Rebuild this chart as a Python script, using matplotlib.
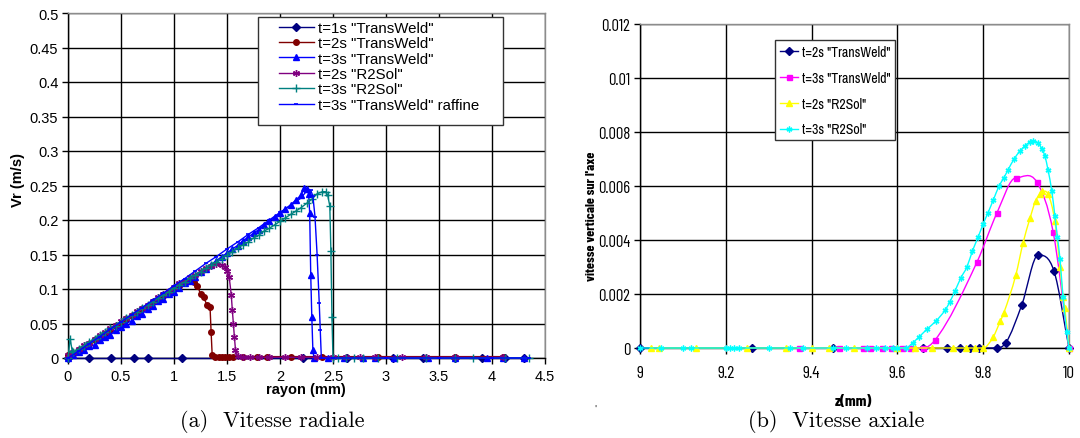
import numpy as np
import matplotlib
matplotlib.use("Agg")
import matplotlib.pyplot as plt
from matplotlib.path import Path
from matplotlib.patches import PathPatch, Rectangle
from matplotlib.lines import Line2D
from matplotlib import font_manager

# ---------------- data: left panel (Vitesse radiale) ----------------
left_xticks = [0, 0.5, 1, 1.5, 2, 2.5, 3, 3.5, 4, 4.5]
left_xticklabels = ["0", "0.5", "1", "1.5", "2", "2.5", "3", "3.5", "4", "4.5"]
left_yticks = [0, 0.05, 0.1, 0.15, 0.2, 0.25, 0.3, 0.35, 0.4, 0.45, 0.5]
left_yticklabels = ["0", "0.05", "0.1", "0.15", "0.2", "0.25", "0.3", "0.35", "0.4", "0.45", "0.5"]

left_labels = ['t=1s "TransWeld"', 't=2s "TransWeld"', 't=3s "TransWeld"',
               't=2s "R2Sol"', 't=3s "R2Sol"', 't=3s "TransWeld" raffine']

t1_tw_x = [0.0, 0.2, 0.41, 0.62, 0.75, 1.08, 2.22, 2.63, 3.07, 3.35, 3.65, 3.91, 4.12, 4.3]
t1_tw_y = [0, 0, 0, 0, 0, 0, 0, 0, 0, 0, 0, 0, 0, 0]

t2_tw_x = [0.0, 0.05, 0.1, 0.15, 0.2, 0.25, 0.3, 0.35, 0.4, 0.45, 0.5, 0.55, 0.6, 0.65,
           0.7, 0.75, 0.8, 0.85, 0.9, 0.95, 1.0, 1.05, 1.1,
           1.15, 1.19, 1.22, 1.25, 1.28, 1.31, 1.34, 1.35, 1.36, 1.39, 1.42, 1.45, 1.48,
           1.52, 1.56, 1.65, 1.78, 1.88, 2.1, 2.4, 2.92, 3.65, 4.1]
t2_tw_y = [0.004, 0.006, 0.011, 0.016, 0.020, 0.026, 0.031, 0.035, 0.041, 0.046, 0.050,
           0.056, 0.061, 0.065, 0.071, 0.075, 0.081, 0.086, 0.090, 0.096, 0.100, 0.105, 0.110,
           0.112, 0.110, 0.105, 0.093, 0.088, 0.077, 0.074, 0.038, 0.005, 0.002, 0.002, 0.002,
           0.002, 0.002, 0.002, 0.002, 0.002, 0.002, 0.002, 0.002, 0.002, 0.002, 0.002]

t3_tw_x = [0.0, 0.05, 0.1, 0.15, 0.2, 0.25, 0.3, 0.35, 0.4, 0.45, 0.5, 0.55, 0.6, 0.65,
           0.7, 0.75, 0.8, 0.85, 0.9, 0.95, 1.0, 1.05, 1.1, 1.15, 1.2, 1.25, 1.3, 1.35,
           1.4, 1.45, 1.5, 1.55, 1.6, 1.65, 1.7, 1.75, 1.8, 1.85, 1.9, 1.95, 2.0, 2.05,
           2.1, 2.15, 2.2,
           2.23, 2.25, 2.27, 2.28, 2.29, 2.30, 2.31, 2.32, 2.45, 2.6, 2.78, 2.9, 3.08,
           3.4, 3.65, 3.95, 4.1, 4.3]
t3_tw_y = [0.000, 0.004, 0.008, 0.012, 0.017, 0.019, 0.026, 0.030, 0.033, 0.041, 0.045,
           0.050, 0.054, 0.061, 0.064, 0.071, 0.075, 0.082, 0.085, 0.093, 0.096, 0.102,
           0.108, 0.112, 0.118, 0.124, 0.129, 0.135, 0.141, 0.147, 0.152, 0.158, 0.163,
           0.170, 0.175, 0.181, 0.186, 0.193, 0.198, 0.204, 0.210, 0.216, 0.222, 0.229,
           0.236,
           0.247, 0.245, 0.238, 0.21, 0.12, 0.06, 0.012, 0.0, 0, 0, 0, 0, 0,
           0, 0, 0, 0, 0]

t2_r2_x = [0.0, 0.05, 0.1, 0.15, 0.2, 0.25, 0.3, 0.35, 0.4, 0.45, 0.5, 0.55, 0.6, 0.65,
           0.7, 0.75, 0.8, 0.85, 0.9, 0.95, 1.0, 1.05, 1.1, 1.15, 1.2, 1.25, 1.3, 1.35,
           1.4, 1.45,
           1.48, 1.5, 1.52, 1.54, 1.55, 1.56, 1.57, 1.58, 1.6, 1.65, 1.72, 1.8, 1.9, 2.05,
           2.2, 2.35, 2.5, 2.62, 2.75, 2.9, 3.15, 3.38, 3.65, 4.1]
t2_r2_y = [0.004, 0.008, 0.013, 0.019, 0.022, 0.028, 0.033, 0.038, 0.044, 0.048, 0.053,
           0.058, 0.062, 0.068, 0.073, 0.077, 0.083, 0.088, 0.093, 0.097, 0.103, 0.108,
           0.112, 0.117, 0.121, 0.126, 0.130, 0.133, 0.136, 0.135,
           0.132, 0.126, 0.118, 0.092, 0.070, 0.050, 0.030, 0.012, 0.003, 0.001, 0.001,
           0.001, 0.001, 0.001, 0.001, 0.001, 0.001, 0.001, 0.001, 0.001, 0.001, 0.001,
           0.001, 0.001]

t3_r2_x = [0.0, 0.02, 0.04, 0.05, 0.1, 0.15, 0.2, 0.25, 0.3, 0.35, 0.4, 0.45, 0.5, 0.55,
           0.6, 0.65, 0.7, 0.75, 0.8, 0.85, 0.9, 0.95, 1.0, 1.05, 1.1, 1.15, 1.2, 1.25,
           1.3, 1.35, 1.4, 1.45, 1.5, 1.55, 1.6, 1.65, 1.7, 1.75, 1.8, 1.85, 1.9, 1.95,
           2.0, 2.05, 2.1, 2.15, 2.2,
           2.25, 2.3, 2.35, 2.4, 2.43, 2.45, 2.47, 2.48, 2.49, 2.5,
           2.55, 2.62, 2.7, 2.78, 2.92, 3.1, 3.38, 3.65, 3.82, 4.12, 4.35]
t3_r2_y = [0.0, 0.028, 0.010, 0.009, 0.013, 0.018, 0.023, 0.028, 0.033, 0.037, 0.043,
           0.047, 0.052, 0.058, 0.062, 0.067, 0.072, 0.077, 0.081, 0.087, 0.091, 0.096,
           0.101, 0.106, 0.110, 0.116, 0.120, 0.125, 0.130, 0.135, 0.139, 0.144, 0.149,
           0.154, 0.159, 0.164, 0.168, 0.174, 0.178, 0.184, 0.188, 0.193, 0.198, 0.203,
           0.208, 0.213, 0.218,
           0.224, 0.230, 0.238, 0.241, 0.241, 0.236, 0.220, 0.155, 0.060, 0.0,
           0, 0, 0, 0, 0, 0, 0, 0, 0, 0, 0]

t3_raf_x = [0.0, 0.1, 0.2, 0.3, 0.4, 0.5, 0.6, 0.7, 0.8, 0.9, 1.0, 1.1, 1.2, 1.3, 1.4,
            1.5, 1.6, 1.7, 1.8, 1.9, 2.0, 2.1, 2.2,
            2.25, 2.29, 2.31, 2.33, 2.35, 2.37, 2.38, 2.39, 2.5, 3.0, 3.5, 4.0, 4.35]
t3_raf_y = [0.0, 0.010, 0.021, 0.031, 0.042, 0.052, 0.063, 0.073, 0.084, 0.094, 0.105,
            0.115, 0.126, 0.137, 0.147, 0.158, 0.168, 0.179, 0.189, 0.200, 0.211, 0.221,
            0.232,
            0.242, 0.243, 0.235, 0.205, 0.150, 0.080, 0.040, 0.0, 0, 0, 0, 0, 0]

# ---------------- data: right panel (Vitesse axiale) ----------------
right_xticks = [9, 9.2, 9.4, 9.6, 9.8, 10]
right_xticklabels = ["9", "9.2", "9.4", "9.6", "9.8", "10"]
right_yticks = [0, 0.002, 0.004, 0.006, 0.008, 0.01, 0.012]
right_yticklabels = ["0", "0.002", "0.004", "0.006", "0.008", "0.01", "0.012"]

right_labels = ['t=2s "TransWeld"', 't=3s "TransWeld"', 't=2s "R2Sol"', 't=3s "R2Sol"']

z_t2_tw = [9.0, 9.26, 9.45, 9.66, 9.715, 9.745, 9.77, 9.79, 9.832, 9.853, 9.89,
           9.928, 9.965, 10.0]
v_t2_tw = [0, 0, 0, 0, 0, 0, 0, 0, 0.0, 0.0002, 0.0016, 0.00344, 0.00285, 0.0]

z_t3_tw = [9.37, 9.465, 9.52, 9.535, 9.565, 9.585, 9.61, 9.63, 9.66, 9.688, 9.786,
           9.832, 9.876, 9.925, 9.963, 10.0]
v_t3_tw = [0, 0, 0, 0, 0, 0, 0, 0, 0, 0.0003, 0.0032, 0.0050, 0.0063, 0.00615,
           0.0043, 0.0]

z_t2_r2 = [9.025, 9.045, 9.13, 9.25, 9.34, 9.40, 9.44, 9.50, 9.60, 9.64, 9.68, 9.73,
           9.76, 9.78, 9.80, 9.823, 9.84, 9.848, 9.876, 9.893, 9.909, 9.922, 9.932,
           9.937, 9.951, 9.967, 9.979, 9.986, 9.99, 10.0]
v_t2_r2 = [0, 0, 0, 0, 0, 0, 0, 0, 0, 0, 0, 0, 0, 0, 0,
           0.0004, 0.0010, 0.0013, 0.0027, 0.0039, 0.0048, 0.00545, 0.0057, 0.0058,
           0.0057, 0.0047, 0.0030, 0.0019, 0.0015, 0.0]

z_t3_r2 = [9.0, 9.05, 9.1, 9.12, 9.2, 9.21, 9.22, 9.23, 9.3, 9.35, 9.38, 9.45, 9.48,
           9.53, 9.55, 9.57, 9.59, 9.6, 9.62,
           9.636, 9.65, 9.669, 9.69, 9.711, 9.722, 9.734, 9.748, 9.762, 9.775, 9.788,
           9.80, 9.811, 9.824, 9.837, 9.848, 9.858, 9.872, 9.886, 9.898, 9.909, 9.916,
           9.927, 9.937, 9.944, 9.951, 9.96, 9.967, 9.973, 9.979, 9.986, 9.995, 10.0]
v_t3_r2 = [0, 0, 0, 0, 0, 0, 0, 0, 0, 0, 0, 0, 0, 0, 0, 0, 0, 0, 0,
           0.0002, 0.0004, 0.0007, 0.0010, 0.0014, 0.0017, 0.0021, 0.0026, 0.0030,
           0.0036, 0.0041, 0.0046, 0.0050, 0.0055, 0.0060, 0.0063, 0.0066, 0.0070,
           0.0073, 0.0075, 0.00763, 0.00767, 0.0076, 0.00737, 0.0071, 0.0066, 0.0058,
           0.0049, 0.0041, 0.0033, 0.0019, 0.0006, 0.0]


# ---------------- helpers ----------------
def pick_font(names, default):
    for n in names:
        try:
            font_manager.findfont(n, fallback_to_default=False)
            return n
        except Exception:
            continue
    return default


SANS = pick_font(["Liberation Sans", "Arial"], "DejaVu Sans")
NARROW = pick_font(["Liberation Sans Narrow", "Archivo Narrow", "Asap Condensed"], SANS)
NARROW_B = pick_font(["Barlow Condensed", "Asap Condensed"], SANS)
SERIF = pick_font(["cmr10", "DejaVu Serif"], "DejaVu Serif")


def smooth_path(x, y):
    """Smoothed (Excel-like) curve through the points, drawn with cubic Beziers."""
    x = np.asarray(x, float)
    y = np.asarray(y, float)
    n = len(x)
    d = np.diff(y) / np.diff(x)
    m = np.zeros(n)
    m[0] = d[0]
    m[-1] = d[-1]
    for i in range(1, n - 1):
        if d[i - 1] * d[i] > 0:
            m[i] = 0.5 * (d[i - 1] + d[i])
        else:
            m[i] = 0.0
    verts = [(x[0], y[0])]
    codes = [Path.MOVETO]
    for i in range(n - 1):
        h = x[i + 1] - x[i]
        verts += [(x[i] + h / 3, y[i] + m[i] * h / 3),
                  (x[i + 1] - h / 3, y[i + 1] - m[i + 1] * h / 3),
                  (x[i + 1], y[i + 1])]
        codes += [Path.CURVE4] * 3
    return Path(verts, codes)


ASTER = (6, 2, 0)

W, H = 1080, 439
fig = plt.figure(figsize=(W / 100, H / 100), dpi=100)


def px_box(x0, y0, x1, y1):
    """figure-fraction rectangle from pixel coords (top-left origin)."""
    return [x0 / W, 1 - y1 / H, (x1 - x0) / W, (y1 - y0) / H]


def style_axes(ax):
    ax.grid(True, color="black", linewidth=1.0)
    ax.set_axisbelow(True)
    for s in ("left", "bottom"):
        ax.spines[s].set_color("black")
        ax.spines[s].set_linewidth(1.0)
    for s in ("top", "right"):
        ax.spines[s].set_color("#8c8c8c")
        ax.spines[s].set_linewidth(1.0)
    ax.tick_params(direction="out", length=4, width=1.0, color="black", pad=3)


def frame_box(ax, x0, y0, x1, y1):
    ax.add_patch(Rectangle((x0 / W, 1 - y1 / H), (x1 - x0) / W, (y1 - y0) / H,
                           transform=fig.transFigure, facecolor="white",
                           edgecolor="#333333", linewidth=1.0, zorder=5,
                           clip_on=False))


# ---------------- left panel ----------------
axL = fig.add_axes(px_box(68, 14, 545, 359))
style_axes(axL)
axL.set_xlim(0, 4.5)
axL.set_ylim(0, 0.5)
axL.set_xticks(left_xticks)
axL.set_xticklabels(left_xticklabels, fontsize=10.5, family=SANS)
axL.set_yticks(left_yticks)
axL.set_yticklabels(left_yticklabels, fontsize=10.5, family=SANS)
axL.tick_params(axis="x", pad=4)

lw = 1.0
axL.plot(t1_tw_x, t1_tw_y, color="#000080", lw=lw, marker="D", ms=4.2, label=left_labels[0], clip_on=False, zorder=3)
axL.plot(t2_tw_x, t2_tw_y, color="#800000", lw=lw, marker="o", ms=4.0, label=left_labels[1], clip_on=False, zorder=3)
axL.plot(t3_tw_x, t3_tw_y, color="#0000FF", lw=lw, marker="^", ms=5.0, label=left_labels[2], clip_on=False, zorder=3)
axL.plot(t2_r2_x, t2_r2_y, color="#800080", lw=lw, marker=ASTER, ms=5.0, mew=1.0, label=left_labels[3], clip_on=False, zorder=3)
axL.plot(t3_r2_x, t3_r2_y, color="#008080", lw=lw, marker="+", ms=5.5, mew=1.0, label=left_labels[4], clip_on=False, zorder=3)
axL.plot(t3_raf_x, t3_raf_y, color="#0000FF", lw=lw, marker="_", ms=3.0, mew=1.2, label=left_labels[5], clip_on=False, zorder=3)

frame_box(axL, 258, 18, 503, 126)
legL = axL.legend(loc="upper left", bbox_to_anchor=((279 - 68) / 477, (359 - 22) / 345),
                  borderaxespad=0, frameon=False,
                  prop={"family": SANS, "size": 10.8}, labelspacing=0.09,
                  handlelength=2.3, handletextpad=0.3, borderpad=0.0, numpoints=1)
legL.set_zorder(6)

fig.text(306 / W, 1 - 390 / H, "rayon (mm)", ha="center", va="center",
         fontsize=10.5, fontweight="bold", family=SANS)
fig.text(18 / W, 1 - 180 / H, "Vr (m/s)", ha="center", va="center", rotation=90,
         fontsize=10.5, fontweight="bold", family=SANS)
fig.text(272 / W, 1 - 422 / H, "(a)  Vitesse radiale", ha="center", va="center",
         fontsize=16, family=SERIF)

# ---------------- right panel ----------------
axR = fig.add_axes(px_box(640, 25, 1069, 349))
style_axes(axR)
axR.set_xlim(9, 10)
axR.set_ylim(0, 0.012)
axR.set_xticks(right_xticks)
axR.set_xticklabels(right_xticklabels, fontsize=12.5, family=NARROW_B)
axR.set_yticks(right_yticks)
axR.set_yticklabels(right_yticklabels, fontsize=12, family=NARROW_B)
axR.tick_params(axis="x", pad=8)
axR.tick_params(axis="y", pad=3)

series_R = [
    (z_t2_tw, v_t2_tw, "#000080", "D", 3.6, 1.0),
    (z_t3_tw, v_t3_tw, "#FF00FF", "s", 3.6, 1.0),
    (z_t2_r2, v_t2_r2, "#FFFF00", "^", 4.6, 1.0),
    (z_t3_r2, v_t3_r2, "#00FFFF", ASTER, 4.2, 1.0),
]
handlesR = []
for (zx, vy, col, mk, ms, mew), lab in zip(series_R, right_labels):
    axR.add_patch(PathPatch(smooth_path(zx, vy), fill=False, edgecolor=col,
                            linewidth=1.0, zorder=3, clip_on=False))
    axR.plot(zx, vy, ls="none", marker=mk, ms=ms, mew=mew, color=col, zorder=3,
             clip_on=False)
    handlesR.append(Line2D([], [], color=col, lw=1.0, marker=mk, ms=ms, mew=mew))

frame_box(axR, 775, 41, 895, 141)
legR = axR.legend(handlesR, right_labels, loc="upper left",
                  bbox_to_anchor=((780 - 640) / 429, (349 - 46) / 324),
                  borderaxespad=0, frameon=False,
                  prop={"family": NARROW, "size": 10},
                  labelspacing=0.85, handlelength=1.3, handletextpad=0.3,
                  borderpad=0.0, numpoints=1)
legR.set_zorder(6)

fig.text(853 / W, 1 - 402 / H, "z(mm)", ha="center", va="center",
         fontsize=11.5, fontweight="bold", family=NARROW_B)
fig.text(591 / W, 1 - 216 / H, "vitesse verticale sur l'axe", ha="center", va="center",
         rotation=90, fontsize=10, fontweight="bold", family=NARROW_B)
fig.text(836 / W, 1 - 422 / H, "(b)  Vitesse axiale", ha="center", va="center",
         fontsize=16, family=SERIF)
fig.text(595 / W, 1 - 410 / H, "'", ha="center", va="center", fontsize=8,
         family=SANS, color="#333333")

fig.savefig("out.png", dpi=100)
